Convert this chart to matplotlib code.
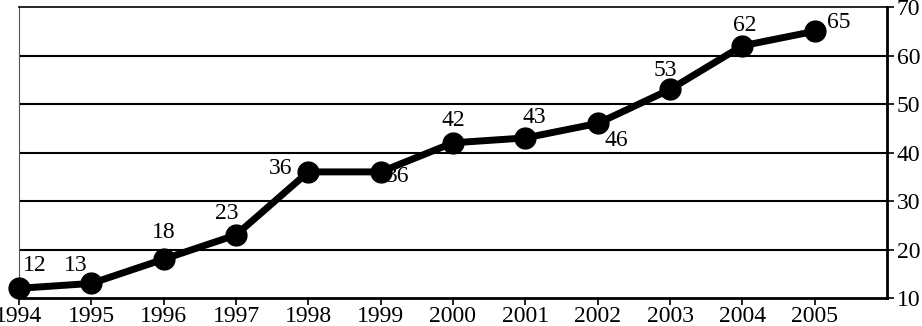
import matplotlib
matplotlib.use("Agg")
import matplotlib.pyplot as plt

plt.rcParams['font.family'] = ['Liberation Serif', 'DejaVu Serif']

# data
years = [1994, 1995, 1996, 1997, 1998, 1999, 2000, 2001, 2002, 2003, 2004, 2005]
values = [12, 13, 18, 23, 36, 36, 42, 43, 46, 53, 62, 65]
# label offsets in pixels (dx, dy)
label_offsets = [(16, 23), (-16, 18), (0, 27), (-9, 21), (-28, 3), (17, -5),
                 (0, 22), (9, 20), (19, -17), (-5, 19), (2, 20), (24, 9)]
y_ticks = [10, 20, 30, 40, 50, 60, 70]

fig = plt.figure(figsize=(9.22, 3.26), dpi=100)
ax = fig.add_axes([19 / 922, 1 - 298 / 326, (887 - 19) / 922, (298 - 7) / 326])

for t in y_ticks[1:-1]:
    ax.axhline(t, color='black', linewidth=1.5, zorder=1)

ax.plot(years, values, color='black', linewidth=5, marker='o',
        markersize=15, zorder=3, clip_on=False)

for x, v, (dx, dy) in zip(years, values, label_offsets):
    ax.annotate(str(v), (x, v), xytext=(dx, dy), textcoords='offset pixels',
                ha='center', va='center', fontsize=17, zorder=4)

ax.set_xlim(1994, 2006)
ax.set_ylim(10, 70)
ax.set_xticks(years)
ax.set_xticklabels([str(y) for y in years], fontsize=17)
ax.set_yticks(y_ticks)
ax.yaxis.tick_right()
ax.tick_params(axis='y', labelsize=17, length=5, width=1.2, pad=2, direction='out')
ax.tick_params(axis='x', length=5, width=1.2, pad=1, direction='out')

ax.spines['left'].set_linewidth(0.8)
ax.spines['left'].set_color('#555555')
ax.spines['top'].set_linewidth(1.2)
ax.spines['bottom'].set_linewidth(2)
ax.spines['right'].set_linewidth(2)

plt.savefig("out.png", dpi=100)
plt.close()
